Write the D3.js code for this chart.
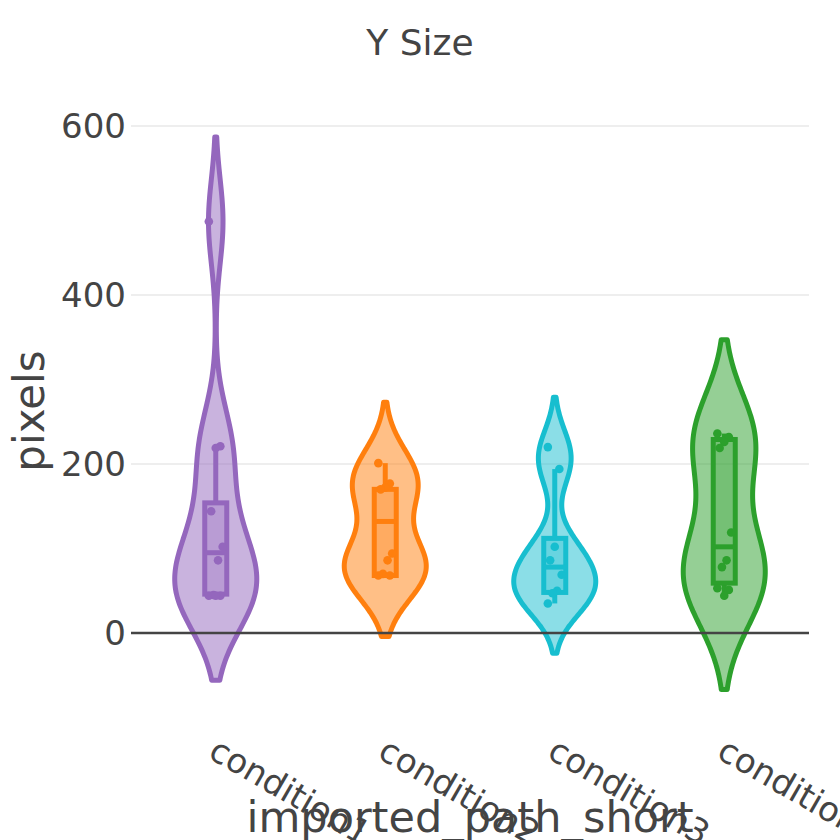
<!DOCTYPE html>
<html>
<head>
<meta charset="utf-8">
<script src="https://cdn.jsdelivr.net/npm/d3@7"></script>
<style>
  body { margin: 0; background: #fff; }
  text { font-family: "DejaVu Sans", sans-serif; fill: #444; }
</style>
</head>
<body>
<div id="my_dataviz"></div>
<script>
// categories and raw samples
var categories = ["condition1", "condition2", "condition3", "condition4"];
var colors = ["#9467bd", "#ff7f0e", "#17becf", "#2ca02c"];

var samples = [
  [487, 221, 219, 144, 102, 86, 45, 44, 44, 44],
  [201, 177, 172, 170, 94, 86, 70, 68, 68],
  [220, 194, 102, 86, 69, 50, 47, 35],
  [236, 232, 226, 219, 119, 86, 78, 53, 51, 44]
];

// box statistics as drawn
var q1 = [46, 68, 48, 59];
var median = [95, 132, 78, 102];
var q3 = [154, 170, 112, 229];
var whiskerLo = [44, 68, 35, 44];
var whiskerHi = [220, 201, 194, 236];

// kde bandwidths (violin spans min - 2bw .. max + 2bw)
var bandwidth = [50, 36, 29.5, 55.5];

var yTicks = [0, 200, 400, 600];

var W = 840, H = 840;
var left = 131, right = 809;

var svg = d3.select('#my_dataviz')
.append('svg')
.attr('width', W)
.attr('height', H);

var x = d3.scaleBand()
.domain(categories)
.range([left, right]);

var y = d3.scaleLinear()
.domain([0, 600])
.range([633, 126]);

// grid
svg.append('g')
.selectAll('line')
.data(yTicks.filter(function(d) { return d != 0; }))
.enter()
.append('line')
.attr('x1', left)
.attr('x2', right)
.attr('y1', function(d) { return y(d); })
.attr('y2', function(d) { return y(d); })
.style('stroke', '#eee')
.style('stroke-width', 2);

svg.append('g')
.selectAll('text')
.data(yTicks)
.enter()
.append('text')
.attr('x', left - 5)
.attr('y', function(d) { return y(d) + 12; })
.attr('text-anchor', 'end')
.style('font-size', '34px')
.text(function(d) { return d; });

var halfWidth = 41;
var boxHalf = 11;
var lw = 5;

function gauss(u) { return Math.exp(-0.5 * u * u); }

categories.forEach(function(cat, i) {
  var cx = x(cat) + x.bandwidth() / 2;
  var pts = samples[i];
  var bw = bandwidth[i];
  var lo = d3.min(pts) - 2 * bw, hi = d3.max(pts) + 2 * bw;

  var grid = d3.range(0, 121).map(function(k) { return lo + (hi - lo) * k / 120; });
  var dens = grid.map(function(v) {
    return d3.sum(pts, function(p) { return gauss((v - p) / bw); });
  });
  var w = d3.scaleLinear().domain([0, d3.max(dens)]).range([0, halfWidth]);

  var area = d3.area()
  .curve(d3.curveCatmullRom)
  .y(function(d, k) { return y(grid[k]); })
  .x0(function(d) { return cx - w(d); })
  .x1(function(d) { return cx + w(d); });

  var g = svg.append('g');

  g.append('path')
  .datum(dens)
  .attr('d', area)
  .style('fill', colors[i])
  .style('fill-opacity', 0.5)
  .style('stroke', colors[i])
  .style('stroke-width', lw)
  .style('stroke-linejoin', 'round');

  // whiskers
  g.append('line')
  .attr('x1', cx).attr('x2', cx)
  .attr('y1', y(q3[i])).attr('y2', y(whiskerHi[i]))
  .style('stroke', colors[i]).style('stroke-width', lw);
  g.append('line')
  .attr('x1', cx).attr('x2', cx)
  .attr('y1', y(q1[i])).attr('y2', y(whiskerLo[i]))
  .style('stroke', colors[i]).style('stroke-width', lw);

  g.append('rect')
  .attr('x', cx - boxHalf)
  .attr('y', y(q3[i]))
  .attr('width', boxHalf * 2)
  .attr('height', y(q1[i]) - y(q3[i]))
  .style('fill', colors[i])
  .style('fill-opacity', 0.3)
  .style('stroke', colors[i])
  .style('stroke-width', lw);

  g.append('line')
  .attr('x1', cx - boxHalf).attr('x2', cx + boxHalf)
  .attr('y1', y(median[i])).attr('y2', y(median[i]))
  .style('stroke', colors[i]).style('stroke-width', lw);

  g.selectAll('circle')
  .data(pts)
  .enter()
  .append('circle')
  .attr('cx', function(d, k) { return cx + ((k * 5) % 7 - 3) * 2.3; })
  .attr('cy', function(d) { return y(d); })
  .attr('r', 4.3)
  .style('fill', colors[i]);
});

// zero line on top of fills
svg.append('line')
.attr('x1', left)
.attr('x2', right)
.attr('y1', y(0))
.attr('y2', y(0))
.style('stroke', '#444')
.style('stroke-width', 2.5);

// category labels, rotated
svg.append('g')
.selectAll('text')
.data(categories)
.enter()
.append('text')
.attr('transform', function(d) {
  return 'translate(' + (x(d) + x.bandwidth() / 2 - 9) + ',757) rotate(30)';
})
.style('font-size', '34px')
.text(function(d) { return d; });

svg.append('text')
.attr('x', 420)
.attr('y', 55)
.attr('text-anchor', 'middle')
.style('font-size', '36px')
.text('Y Size');

svg.append('text')
.attr('transform', 'translate(44,411) rotate(-90)')
.attr('text-anchor', 'middle')
.style('font-size', '42px')
.text('pixels');

svg.append('text')
.attr('x', (left + right) / 2)
.attr('y', 832)
.attr('text-anchor', 'middle')
.style('font-size', '43px')
.text('imported_path_short');
</script>
</body>
</html>
